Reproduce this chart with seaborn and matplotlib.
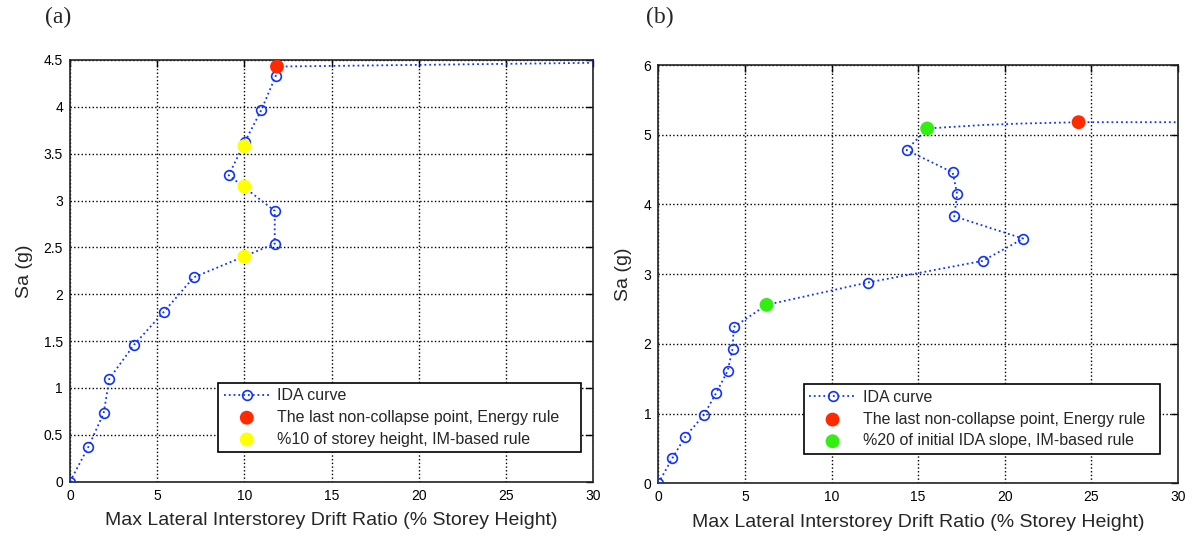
import matplotlib
matplotlib.use("Agg")
import matplotlib.pyplot as plt
import seaborn as sns
import pandas as pd

# ---------------- data ----------------
# Panel (a)
a_drift = [0.0, 1.05, 1.93, 2.26, 3.67, 5.37, 7.09, 11.74, 11.74, 9.10, 10.04, 10.98, 11.80, 11.87, 30.0]
a_sa    = [0.0, 0.37, 0.73, 1.10, 1.46, 1.81, 2.18, 2.54, 2.89, 3.27, 3.63, 3.97, 4.33, 4.43, 4.47]
a_n_markers = 13          # circles on the first 13 IDA points
a_energy_x = [11.87]
a_energy_y = [4.43]
a_im_x = [10.0, 10.0, 10.0]
a_im_y = [2.40, 3.15, 3.58]

# Panel (b)
b_drift = [0.0, 0.81, 1.56, 2.63, 3.35, 4.00, 4.29, 4.35, 6.25, 12.08, 18.72, 21.06, 17.08, 17.25, 16.99, 14.33,
           15.52, 18.75, 20.87, 24.26, 30.0]
b_sa    = [0.0, 0.36, 0.67, 0.98, 1.30, 1.61, 1.93, 2.24, 2.56, 2.88, 3.19, 3.51, 3.83, 4.15, 4.46, 4.78,
           5.09, 5.14, 5.16, 5.18, 5.18]
b_marker_idx = [0, 1, 2, 3, 4, 5, 6, 7, 9, 10, 11, 12, 13, 14, 15]
b_energy_x = [24.26]
b_energy_y = [5.18]
b_im_x = [6.25, 15.52]
b_im_y = [2.56, 5.09]

x_ticks = [0, 5, 10, 15, 20, 25, 30]
a_y_ticks = [0, 0.5, 1, 1.5, 2, 2.5, 3, 3.5, 4, 4.5]
a_y_labels = ["0", "0.5", "1", "1.5", "2", "2.5", "3", "3.5", "4", "4.5"]
b_y_ticks = [0, 1, 2, 3, 4, 5, 6]
b_y_labels = ["0", "1", "2", "3", "4", "5", "6"]

xlabel = "Max Lateral Interstorey Drift Ratio (% Storey Height)"
ylabel = "Sa (g)"
lbl_ida = "IDA curve"
lbl_energy = "The last non-collapse point, Energy rule"
a_lbl_im = "%10 of storey height, IM-based rule"
b_lbl_im = "%20 of initial IDA slope, IM-based rule"

# ---------------- style ----------------
sns.set_style("white")
plt.rcParams["font.family"] = ["Liberation Sans", "DejaVu Sans"]

fig = plt.figure(figsize=(11.96, 5.41), dpi=100)
ax_a = fig.add_axes([0.0585, 0.1096, 0.4375, 0.7795])
ax_b = fig.add_axes([0.5504, 0.1066, 0.4346, 0.7732])

blue = "#1133ff"
red = "#ff2a00"
yellow = "#ffff00"
green = "#33ee11"


def draw(ax, dx, dy, mark, ex, ey, ix, iy, imcol, imlabel, yticks, ylabels, ymax, leg_box):
    df = pd.DataFrame({"x": dx, "y": dy})
    sns.lineplot(data=df, x="x", y="y", sort=False, estimator=None, ax=ax,
                 color=blue, linestyle=":", linewidth=1.3, marker="o", markevery=mark,
                 markersize=7, markerfacecolor="none", markeredgecolor=blue,
                 markeredgewidth=1.2, label=lbl_ida, zorder=3)
    sns.scatterplot(x=ex, y=ey, ax=ax, color=red, s=100, edgecolor="none",
                    label=lbl_energy, zorder=4)
    sns.scatterplot(x=ix, y=iy, ax=ax, color=imcol, s=100, edgecolor="none",
                    label=imlabel, zorder=4)
    ax.set_xlim(0, 30)
    ax.set_ylim(0, ymax)
    ax.set_xticks(x_ticks)
    ax.set_xticklabels([str(t) for t in x_ticks])
    ax.set_yticks(yticks)
    ax.set_yticklabels(ylabels)
    ax.grid(True, color="black", linestyle=":", linewidth=1.0)
    ax.set_axisbelow(True)
    ax.tick_params(direction="in", length=5, width=1, top=True, right=True,
                   labelsize=10, colors="black", pad=5)
    for s in ax.spines.values():
        s.set_color("#222222")
        s.set_linewidth(1.2)
    ax.set_xlabel(xlabel, fontsize=14, labelpad=7)
    ax.set_ylabel(ylabel, fontsize=14, labelpad=8)
    leg = ax.legend(loc="lower left", bbox_to_anchor=leg_box, mode="expand",
                    fontsize=11.5, frameon=True, fancybox=False, edgecolor="black",
                    framealpha=1, borderpad=0.35, handlelength=2.9, handletextpad=0.45,
                    labelspacing=0.42, borderaxespad=0)
    leg.get_frame().set_linewidth(1.2)


draw(ax_a, a_drift, a_sa, list(range(a_n_markers)), a_energy_x, a_energy_y,
     a_im_x, a_im_y, yellow, a_lbl_im, a_y_ticks, a_y_labels, 4.5,
     (0.283, 0.070, 0.694, 0.0))
draw(ax_b, b_drift, b_sa, b_marker_idx, b_energy_x, b_energy_y,
     b_im_x, b_im_y, green, b_lbl_im, b_y_ticks, b_y_labels, 6,
     (0.280, 0.070, 0.685, 0.0))

fig.text(58 / 1196, 1 - 17 / 541, "(a)", family="Liberation Serif", fontsize=17,
         ha="center", va="center")
fig.text(660 / 1196, 1 - 17 / 541, "(b)", family="Liberation Serif", fontsize=17,
         ha="center", va="center")

fig.savefig("out.png", dpi=100)
